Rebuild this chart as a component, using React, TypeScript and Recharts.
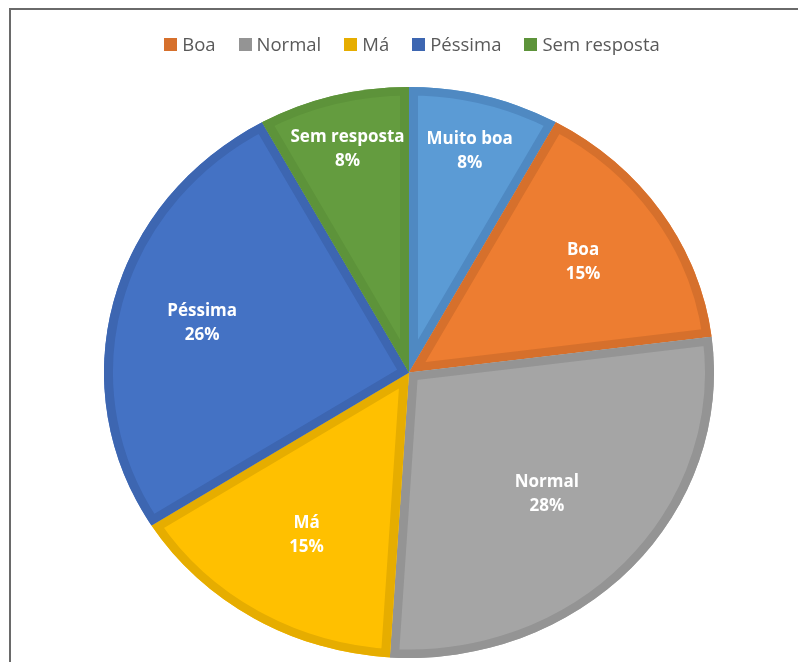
import { Pie, PieChart, Sector } from "recharts";

/* Avaliação: pizza com rótulos internos e legenda no topo (sem "Muito boa",
   cortada no original). O gráfico original está levemente achatado na
   vertical, por isso as fatias são escaladas em Y. */

const CATEGORIAS = ["Muito boa", "Boa", "Normal", "Má", "Péssima", "Sem resposta"];
const PERCENTUAIS = [8, 15, 28, 15, 26, 8];
const LEGENDA = ["Boa", "Normal", "Má", "Péssima", "Sem resposta"];

const FILLS = ["#5b9bd5", "#ed7d31", "#a5a5a5", "#ffc000", "#4472c4", "#649c3f"];
const BORDERS = ["#4f89c2", "#d6702c", "#949494", "#e6ad00", "#3d66b1", "#5d933a"];
// distância do rótulo ao centro, em fração do raio (Excel "melhor ajuste")
const LABEL_R = [0.8, 0.69, 0.62, 0.66, 0.7, 0.81];

const W = 760;
const H = 652;
const CX = 398;
const CY = 362.5;
const R = 305;
const SY = 0.936;
const BORDER = 9;
const RAD = Math.PI / 180;
const FONT = "'Open Sans', 'Noto Sans', sans-serif";

const data = CATEGORIAS.map((name, i) => ({ name, value: PERCENTUAIS[i], fill: FILLS[i] }));

if (typeof document !== "undefined") {
  document.documentElement.style.overflow = "hidden";
}

function squash(cy: number) {
  return `translate(0 ${cy}) scale(1 ${SY}) translate(0 ${-cy})`;
}

function BorderedSlice(props: any) {
  const { cx, cy, outerRadius, startAngle, endAngle } = props;
  const name = props.name ?? props.payload?.name;
  const i = Math.max(0, CATEGORIAS.indexOf(name));
  const geom = { cx, cy, innerRadius: 0, outerRadius, startAngle, endAngle };
  const id = `fatia-${i}`;
  return (
    <g transform={squash(cy)}>
      <defs>
        <clipPath id={id}>
          <Sector {...geom} />
        </clipPath>
      </defs>
      <Sector {...geom} fill={FILLS[i]} stroke="none" />
      <Sector
        {...geom}
        fill="none"
        stroke={BORDERS[i]}
        strokeWidth={BORDER * 2}
        strokeLinejoin="miter"
        clipPath={`url(#${id})`}
      />
    </g>
  );
}

function SliceLabel(props: any) {
  const { cx, cy, midAngle, outerRadius, index, value, name } = props;
  const r = outerRadius * LABEL_R[index];
  const x = cx + r * Math.cos(-midAngle * RAD);
  const y = cy + r * Math.sin(-midAngle * RAD) * SY;
  return (
    <text
      x={x}
      y={y}
      textAnchor="middle"
      fill="#fff"
      fontFamily={FONT}
      fontWeight={700}
      fontSize={17}
    >
      <tspan x={x} dy={-7}>
        {name}
      </tspan>
      <tspan x={x} dy={24}>
        {value}%
      </tspan>
    </text>
  );
}

export default function App() {
  return (
    <div
      style={{
        position: "fixed",
        top: 8,
        left: 9,
        width: 800,
        height: H,
        borderTop: "2px solid #6a6a6a",
        borderLeft: "2px solid #6a6a6a",
        fontFamily: FONT,
      }}
    >
      <div
        style={{
          position: "absolute",
          top: 24,
          left: 0,
          width: 788,
          display: "flex",
          justifyContent: "center",
          gap: 23,
          transform: "translateX(7px)",
          color: "#595959",
          fontSize: 18.5,
          lineHeight: "20px",
        }}
      >
        {LEGENDA.map((l) => {
          const i = CATEGORIAS.indexOf(l);
          return (
            <span key={l} style={{ display: "flex", alignItems: "center", gap: 5 }}>
              <span
                style={{ display: "inline-block", width: 13, height: 13, background: BORDERS[i] }}
              />
              {l}
            </span>
          );
        })}
      </div>
      <PieChart width={W} height={H} margin={{ top: 0, right: 0, bottom: 0, left: 0 }}>
        <Pie
          data={data}
          dataKey="value"
          nameKey="name"
          cx={CX}
          cy={CY}
          outerRadius={R}
          startAngle={90}
          endAngle={-270}
          stroke="none"
          shape={BorderedSlice}
          label={SliceLabel}
          labelLine={false}
          isAnimationActive={false}
        />
      </PieChart>
    </div>
  );
}
